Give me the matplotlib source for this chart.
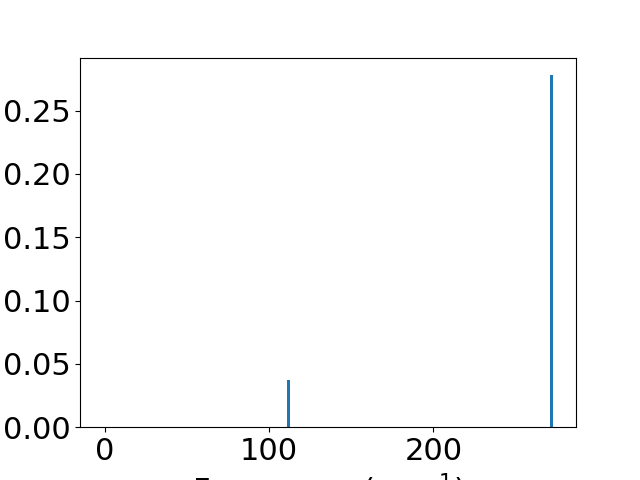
import matplotlib
matplotlib.use("Agg")
import matplotlib.pyplot as plt

# vibrational frequencies (cm^-1) and intensities
freqs = [111.9, 271.9]
intensities = [0.037, 0.278]

plt.rcParams['font.size'] = 22

fig, ax = plt.subplots(figsize=(6.4, 4.8), dpi=100)
ax.bar(freqs, intensities, width=2.0, color='#1f77b4')
ax.set_xlim(-15.2, 286.9)
ax.set_xticks([0, 100, 200])
ax.set_xlabel('Frequency (cm$^{-1}$)')

fig.savefig('out.png', dpi=100)
